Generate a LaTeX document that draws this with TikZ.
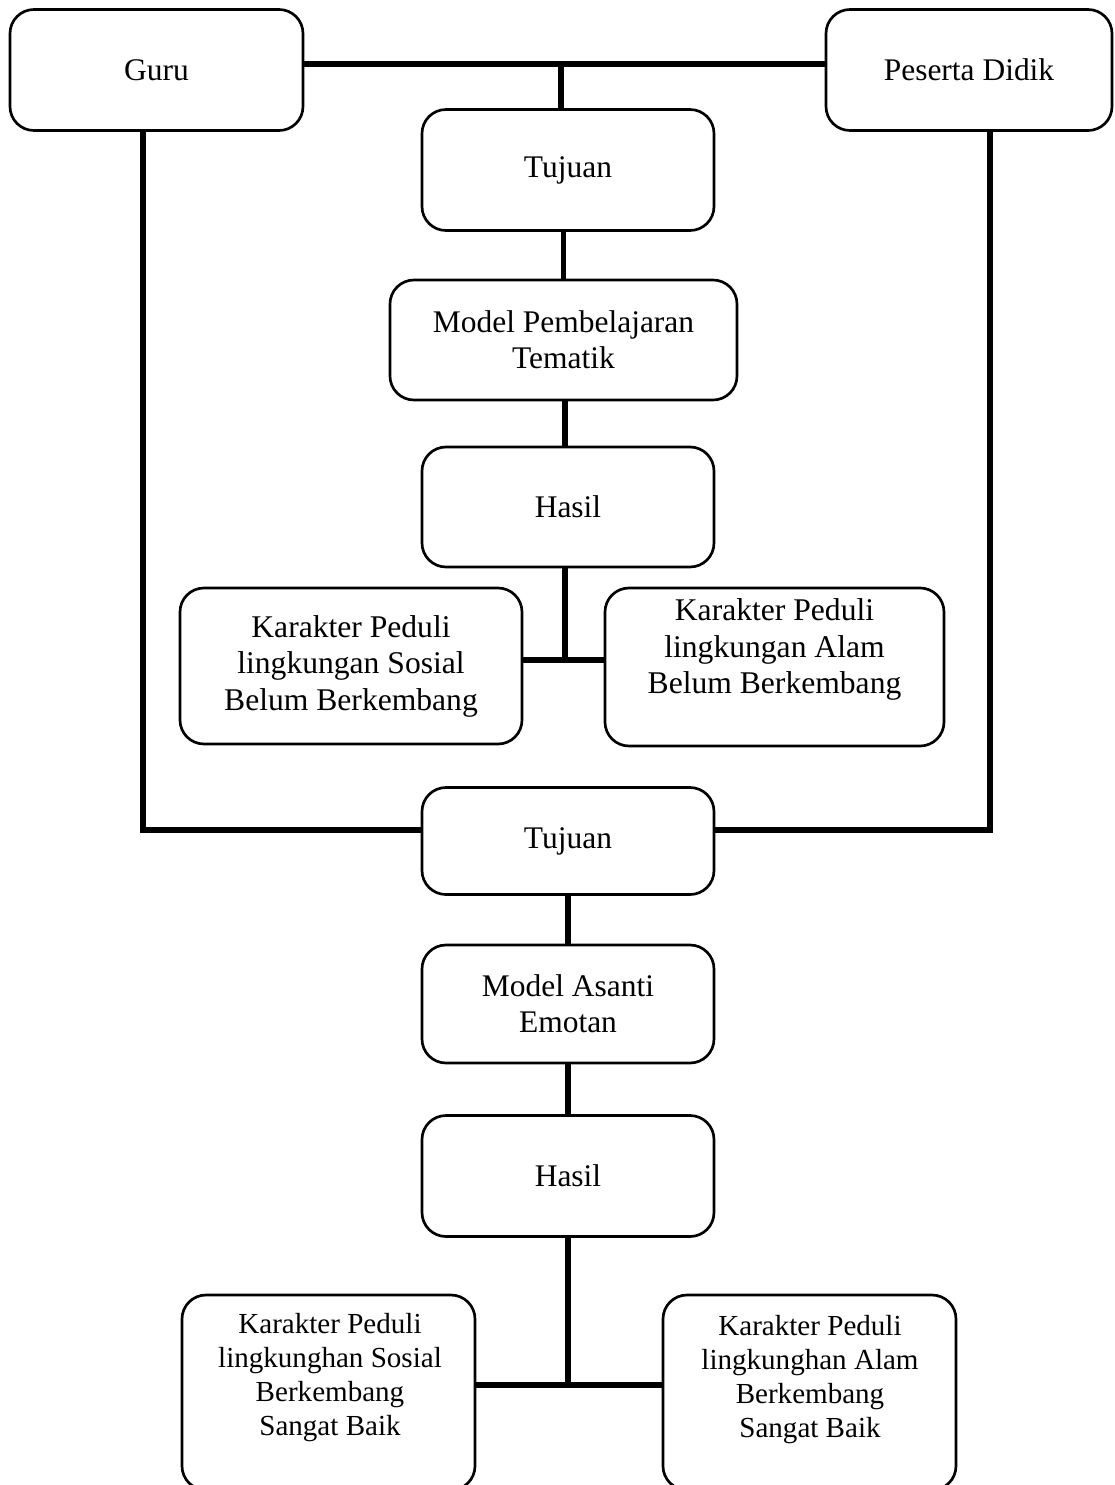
\documentclass[tikz,border=0pt]{standalone}
\usepackage{fontspec}
\setmainfont{Liberation Serif}
\begin{document}
\begin{tikzpicture}[x=0.75pt,y=-0.75pt,
  box/.style={draw, line width=2pt, rounded corners=18pt, align=center, inner sep=0pt,
    font=\fontsize{23.6}{27}\selectfont},
  kartext/.style={font=\fontsize{23.7}{27.4}\selectfont},
  smalltext/.style={align=center, inner sep=0pt, font=\fontsize{21.8}{25.5}\selectfont},
  conn/.style={line width=3.8pt}]
\useasboundingbox (0,0) rectangle (1114,1485);
\clip (0,0) rectangle (1114,1485);

% top row
\node[box, minimum width=293*0.75pt, minimum height=121*0.75pt] (guru) at (156.5,70) {Guru};
\node[box, minimum width=286*0.75pt, minimum height=121*0.75pt] (peserta) at (969,70) {Peserta Didik};

% upper chain
\node[box, minimum width=292*0.75pt, minimum height=121*0.75pt] (tuj1) at (568,170) {Tujuan};
\node[box, minimum width=347*0.75pt, minimum height=120*0.75pt] (model1) at (563.5,340) {Model Pembelajaran\\Tematik};
\node[box, minimum width=292*0.75pt, minimum height=120*0.75pt] (hasil1) at (568,507) {Hasil};
\node[box, kartext, minimum width=342*0.75pt, minimum height=156*0.75pt] (ks1) at (351,666) {Karakter Peduli\\lingkungan Sosial\\Belum Berkembang};
\node[box, kartext, minimum width=339*0.75pt, minimum height=158*0.75pt] (ka1) at (774.5,667) {Karakter Peduli\\lingkungan Alam\\Belum Berkembang\\[4pt]};

% lower chain
\node[box, minimum width=292*0.75pt, minimum height=107*0.75pt] (tuj2) at (568,841) {Tujuan};
\node[box, minimum width=292*0.75pt, minimum height=118*0.75pt] (model2) at (568,1004) {Model Asanti\\Emotan};
\node[box, minimum width=292*0.75pt, minimum height=121*0.75pt] (hasil2) at (568,1176) {Hasil};
\node[box, minimum width=293*0.75pt, minimum height=195*0.75pt] (ks2) at (328.5,1392.5) {};
\node[smalltext] (ks2text) at (330,1378) {Karakter Peduli\\lingkunghan Sosial\\Berkembang\\Sangat Baik};
\node[box, minimum width=293*0.75pt, minimum height=195*0.75pt] (ka2) at (809.5,1392.5) {};
\node[smalltext] (ka2text) at (810,1380) {Karakter Peduli\\lingkunghan Alam\\Berkembang\\Sangat Baik};

% connectors
\coordinate (jt) at (561,64);
\draw[conn] (jt -| guru.east) -- (jt -| peserta.west);
\draw[conn] (jt) -- (jt |- tuj1.north);
\draw[conn] (model1.north |- tuj1.south) -- (model1.north);
\coordinate (jh1) at (565,400);
\draw[conn] (jh1 |- model1.south) -- (jh1 |- hasil1.north);
\coordinate (jk1) at (565,660);
\draw[conn] (jk1 |- hasil1.south) -- (jk1);
\draw[conn] (ks1.east |- jk1) -- (ka1.west |- jk1);

\coordinate (jg) at (143,830);
\draw[conn] (jg |- guru.south) -- (jg) -- (tuj2.west |- jg);
\coordinate (jp) at (990,830);
\draw[conn] (jp |- peserta.south) -- (jp) -- (tuj2.east |- jp);

\draw[conn] (tuj2.south) -- (model2.north);
\draw[conn] (model2.south) -- (hasil2.north);
\coordinate (jk2) at (568,1385);
\draw[conn] (hasil2.south) -- (jk2);
\draw[conn] (ks2.east |- jk2) -- (ka2.west |- jk2);
\end{tikzpicture}
\end{document}
